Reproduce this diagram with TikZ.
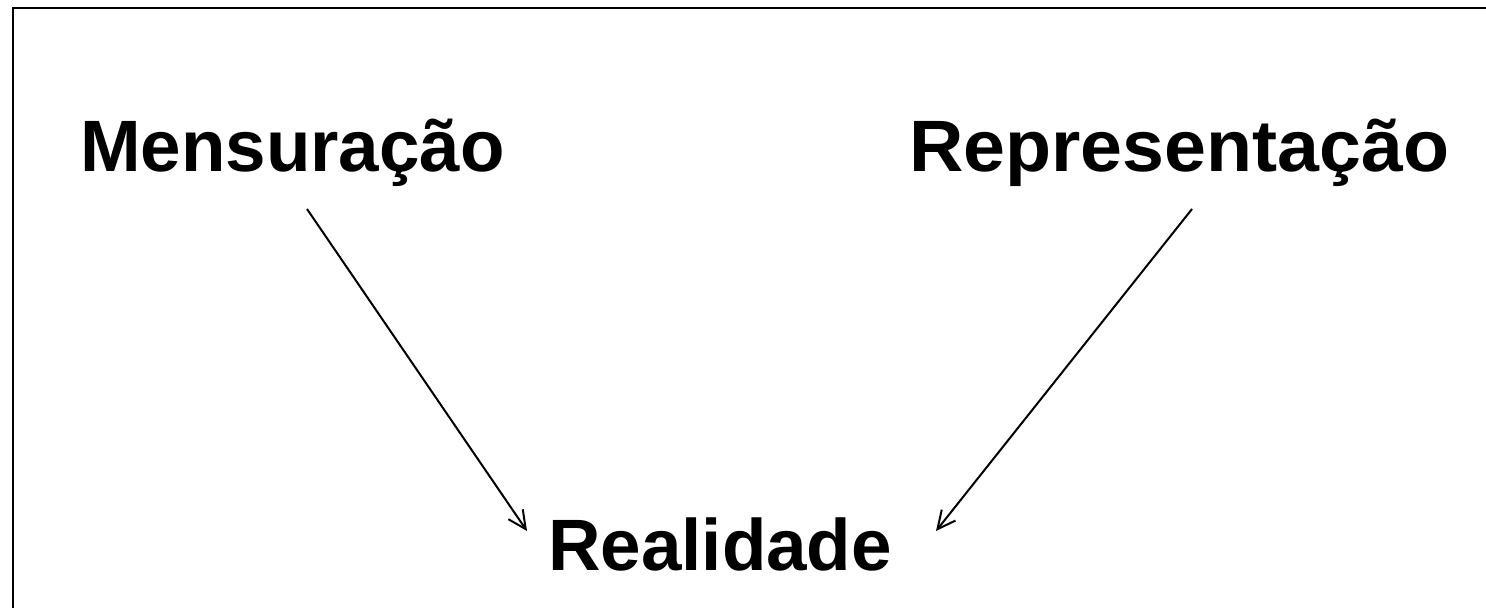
\documentclass[tikz,border=0pt]{standalone}
\usepackage{fontspec}
\setmainfont{Liberation Sans}
\usetikzlibrary{arrows.meta}
\begin{document}
\begin{tikzpicture}[x=0.5pt,y=-0.5pt,
  term/.style={font=\fontsize{36.4}{40}\selectfont\bfseries, inner sep=0pt, outer sep=0pt, anchor=base west},
  link/.style={line width=1pt, -{Straight Barb[length=9pt,width=8.75pt,line width=1pt]}},
  frame/.style={line width=1.2pt}]
  \useasboundingbox (0,0) rectangle (1486,608);
  % open frame: top and left edges only
  \draw[frame] (13,608) -- (13,8.3) -- (1490,8.3);
  % terms
  \node[term] (mens) at (80,172) {Mensuração};
  \node[term] (repr) at (909,172) {\scalebox{1.035}[1]{Representação}};
  \node[term] (real) at (548,570) {Realidade};
  % arrow end points
  \coordinate (m1) at (307,209);
  \coordinate (m2) at (527,531);
  \coordinate (r1) at (1192,209);
  \coordinate (r2) at (936,531);
  \draw[link] (m1) -- (m2);
  \draw[link] (r1) -- (r2);
\end{tikzpicture}
\end{document}
